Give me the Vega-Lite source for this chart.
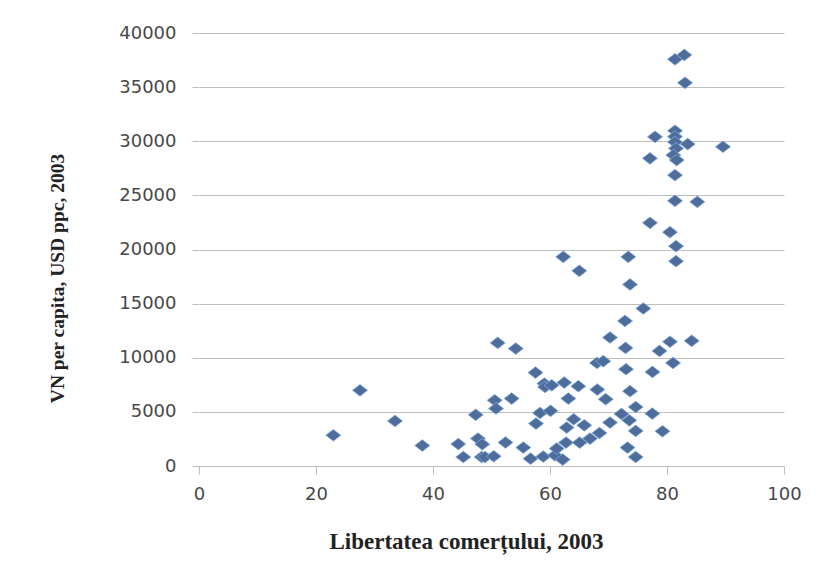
{
  "$schema": "https://vega.github.io/schema/vega-lite/v6.json",
  "autosize": "none",
  "width": 585,
  "height": 433,
  "padding": {"left": 199, "top": 33, "right": 31, "bottom": 103},
  "background": "white",
  "config": {"view": {"stroke": null}},
  "data": {"values": [
    {"lib": 22.96, "vn": 2840}, {"lib": 27.52, "vn": 6990}, {"lib": 33.5, "vn": 4160}, {"lib": 38.17, "vn": 1890},
    {"lib": 44.32, "vn": 2030}, {"lib": 45.18, "vn": 830}, {"lib": 47.3, "vn": 4730}, {"lib": 47.69, "vn": 2530},
    {"lib": 48.43, "vn": 2010}, {"lib": 48.32, "vn": 830}, {"lib": 48.89, "vn": 830}, {"lib": 50.38, "vn": 900},
    {"lib": 50.55, "vn": 6070}, {"lib": 50.77, "vn": 5310}, {"lib": 51.06, "vn": 11370}, {"lib": 52.39, "vn": 2170},
    {"lib": 53.45, "vn": 6230}, {"lib": 54.14, "vn": 10850}, {"lib": 55.44, "vn": 1700}, {"lib": 56.67, "vn": 680},
    {"lib": 57.52, "vn": 8630}, {"lib": 57.61, "vn": 3920}, {"lib": 58.29, "vn": 4900}, {"lib": 58.85, "vn": 870},
    {"lib": 59.03, "vn": 7620}, {"lib": 59.15, "vn": 7300}, {"lib": 60.09, "vn": 5100}, {"lib": 60.29, "vn": 7460},
    {"lib": 60.85, "vn": 990}, {"lib": 61.15, "vn": 1610}, {"lib": 62.17, "vn": 590}, {"lib": 62.44, "vn": 7710},
    {"lib": 62.74, "vn": 2160}, {"lib": 62.85, "vn": 3550}, {"lib": 62.27, "vn": 19320}, {"lib": 63.13, "vn": 6230},
    {"lib": 64.05, "vn": 4320}, {"lib": 64.84, "vn": 7370}, {"lib": 65.01, "vn": 18030}, {"lib": 65.08, "vn": 2160},
    {"lib": 65.86, "vn": 3760}, {"lib": 66.84, "vn": 2530}, {"lib": 68.03, "vn": 9520}, {"lib": 68.09, "vn": 7060},
    {"lib": 68.46, "vn": 3050}, {"lib": 69.11, "vn": 9680}, {"lib": 69.52, "vn": 6170}, {"lib": 70.26, "vn": 11870},
    {"lib": 70.26, "vn": 4010}, {"lib": 72.22, "vn": 4810}, {"lib": 72.82, "vn": 13400}, {"lib": 72.91, "vn": 10910},
    {"lib": 72.99, "vn": 8940}, {"lib": 73.25, "vn": 1700}, {"lib": 73.38, "vn": 19320}, {"lib": 73.55, "vn": 4220},
    {"lib": 73.68, "vn": 6910}, {"lib": 73.68, "vn": 16770}, {"lib": 74.65, "vn": 5450}, {"lib": 74.65, "vn": 3240},
    {"lib": 74.65, "vn": 830}, {"lib": 75.95, "vn": 14550}, {"lib": 77.09, "vn": 28420}, {"lib": 77.09, "vn": 22460},
    {"lib": 77.49, "vn": 4840}, {"lib": 77.52, "vn": 8690}, {"lib": 77.95, "vn": 30410}, {"lib": 78.72, "vn": 10630},
    {"lib": 79.23, "vn": 3210}, {"lib": 80.51, "vn": 21600}, {"lib": 80.51, "vn": 11480}, {"lib": 81.03, "vn": 9520},
    {"lib": 81.37, "vn": 30970}, {"lib": 81.37, "vn": 30430}, {"lib": 81.37, "vn": 29920}, {"lib": 81.54, "vn": 29340},
    {"lib": 81.08, "vn": 28720}, {"lib": 81.66, "vn": 28260}, {"lib": 81.37, "vn": 26870}, {"lib": 81.37, "vn": 24500},
    {"lib": 81.54, "vn": 20310}, {"lib": 81.54, "vn": 18920}, {"lib": 81.37, "vn": 37570}, {"lib": 82.96, "vn": 37970},
    {"lib": 83.08, "vn": 35400}, {"lib": 83.54, "vn": 29740}, {"lib": 84.22, "vn": 11560}, {"lib": 85.18, "vn": 24400},
    {"lib": 89.57, "vn": 29490}
  ]},
  "mark": {
    "type": "point",
    "shape": "M-1,0L0,-0.78L1,0L0,0.78Z",
    "size": 225,
    "filled": true,
    "fill": "#4E6D9B",
    "stroke": "#7EA8DE",
    "strokeWidth": 0.8,
    "opacity": 1
  },
  "encoding": {
    "x": {
      "field": "lib", "type": "quantitative",
      "scale": {"domain": [0, 100], "nice": false, "zero": true},
      "axis": {
        "title": "Libertatea comerțului, 2003",
        "values": [0, 20, 40, 60, 80, 100],
        "grid": false,
        "domainColor": "#BEBEBE", "domainWidth": 1,
        "tickColor": "#BEBEBE", "tickSize": 8,
        "labelFont": "DejaVu Sans", "labelFontSize": 18, "labelColor": "#484848",
        "labelPadding": 11, "labelFlush": false,
        "titleFont": "Liberation Serif", "titleFontSize": 23, "titleFontWeight": "bold", "titleColor": "#222222",
        "titleX": 267, "titleY": 75, "titleBaseline": "middle", "titleAlign": "center"
      }
    },
    "y": {
      "field": "vn", "type": "quantitative",
      "scale": {"domain": [0, 40000], "nice": false},
      "axis": {
        "title": "VN per capita, USD ppc, 2003",
        "values": [0, 5000, 10000, 15000, 20000, 25000, 30000, 35000, 40000],
        "format": "d",
        "grid": true, "gridColor": "#BEBEBE", "gridWidth": 1,
        "domain": false,
        "tickColor": "#BEBEBE", "tickSize": 7,
        "labelFont": "DejaVu Sans", "labelFontSize": 18, "labelColor": "#484848",
        "labelPadding": 16, "labelFlush": false,
        "titleFont": "Liberation Serif", "titleFontSize": 19.5, "titleFontWeight": "bold", "titleColor": "#222222",
        "titleX": -142, "titleY": 245, "titleBaseline": "middle", "titleAlign": "center", "titleAngle": -90
      }
    }
  }
}
